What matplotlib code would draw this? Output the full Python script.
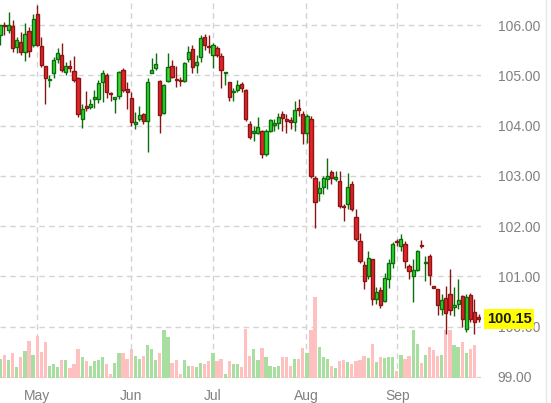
import matplotlib
matplotlib.use("Agg")
import matplotlib.pyplot as plt
from matplotlib.lines import Line2D
import matplotlib.transforms as mtransforms

plt.rcParams['font.family'] = ['Liberation Sans', 'DejaVu Sans']

# daily OHLC, late April to late September
opens = [105.80, 106.00, 105.90, 105.98, 105.56, 105.66, 105.46, 105.88, 105.60, 106.22,
         105.58, 105.18, 104.90, 105.04, 105.32, 105.40, 105.06, 105.18, 105.08, 104.94,
         104.14, 104.38, 104.38, 104.54, 104.54, 104.86, 105.00, 104.64, 104.54, 104.60,
         105.10, 104.72, 104.56, 104.04, 104.14, 104.24, 104.10, 105.04, 105.14, 104.88,
         104.26, 104.88, 105.18, 104.92, 104.90, 104.88, 105.32, 105.52, 105.20, 105.36,
         105.76, 105.58, 105.40, 105.54, 105.38, 105.04, 104.86, 104.66, 104.70, 104.82,
         104.70, 104.04, 103.86, 103.86, 103.90, 103.44, 103.90, 104.02, 104.06, 104.24,
         104.12, 104.10, 104.08, 104.34, 104.24, 103.86, 104.14, 102.96, 102.66, 102.78,
         102.94, 103.08, 102.94, 102.90, 102.40, 102.44, 102.84, 102.18, 101.70, 101.22,
         101.00, 101.34, 100.56, 100.74, 100.52, 100.94, 101.26, 101.70, 101.60, 101.64,
         101.20, 101.00, 101.12, 101.62, 101.26, 101.40, 100.82, 100.76, 100.36, 100.58,
         100.66, 100.40, 100.46, 100.62, 99.96, 100.64, 100.30, 100.20]
highs = [106.00, 106.06, 106.26, 106.10, 105.76, 105.86, 106.04, 105.96, 106.22, 106.40,
         105.76, 105.18, 105.00, 105.36, 105.54, 105.64, 105.26, 105.30, 105.38, 104.96,
         104.44, 104.68, 104.54, 104.70, 104.90, 105.10, 105.04, 104.66, 104.58, 105.08,
         105.14, 104.86, 104.66, 104.28, 104.40, 104.26, 104.94, 105.34, 105.44, 104.90,
         104.82, 105.44, 105.30, 105.18, 104.96, 105.26, 105.58, 105.60, 105.40, 105.80,
         105.82, 105.80, 105.64, 105.58, 105.44, 105.06, 104.86, 104.74, 104.90, 104.86,
         104.72, 104.10, 104.00, 104.18, 103.92, 103.94, 104.14, 104.14, 104.26, 104.30,
         104.24, 104.18, 104.50, 104.54, 104.30, 104.24, 104.20, 103.00, 102.90, 103.00,
         103.36, 103.12, 103.10, 103.10, 102.44, 103.06, 102.90, 102.34, 101.86, 101.30,
         101.50, 101.34, 100.80, 100.80, 101.06, 101.34, 101.68, 101.74, 101.84, 101.70,
         101.24, 101.34, 101.52, 101.72, 101.40, 101.44, 100.82, 100.76, 100.66, 100.82,
         101.14, 100.80, 100.94, 100.64, 100.66, 100.68, 100.56, 100.26]
lows = [105.60, 105.80, 105.84, 105.46, 105.44, 105.40, 105.28, 105.36, 105.56, 105.58,
        105.16, 104.44, 104.76, 104.94, 105.24, 105.06, 105.00, 105.06, 104.86, 104.18,
        103.96, 104.30, 104.34, 104.36, 104.46, 104.48, 104.56, 104.50, 104.26, 104.54,
        104.66, 104.34, 104.00, 103.94, 104.10, 104.04, 103.48, 105.04, 105.10, 103.86,
        104.24, 104.86, 104.94, 104.76, 104.78, 104.86, 105.26, 105.04, 105.04, 105.26,
        105.50, 105.44, 105.14, 105.36, 104.74, 104.80, 104.50, 104.50, 104.66, 104.66,
        104.10, 103.74, 103.70, 103.84, 103.36, 103.40, 103.88, 103.90, 103.94, 103.90,
        103.86, 103.94, 103.90, 104.20, 103.64, 103.66, 102.96, 101.96, 102.50, 102.64,
        102.74, 102.84, 102.90, 102.36, 102.10, 102.34, 102.30, 101.70, 101.26, 100.76,
        100.94, 100.44, 100.46, 100.38, 100.50, 100.78, 101.16, 101.60, 101.50, 101.16,
        100.94, 100.50, 101.10, 101.56, 100.90, 100.84, 100.78, 100.24, 100.24, 99.86,
        100.24, 100.22, 100.36, 100.00, 99.90, 100.10, 99.86, 100.10]
closes = [106.00, 105.98, 106.00, 105.54, 105.70, 105.46, 105.82, 105.48, 106.12, 105.60,
          105.20, 104.94, 104.92, 105.30, 105.44, 105.10, 105.18, 105.14, 104.90, 104.24,
          104.34, 104.36, 104.44, 104.56, 104.84, 105.04, 104.66, 104.62, 104.56, 105.06,
          104.70, 104.66, 104.08, 104.06, 104.22, 104.10, 104.86, 105.10, 105.22, 104.22,
          104.80, 105.16, 104.96, 104.90, 104.88, 105.24, 105.46, 105.16, 105.26, 105.74,
          105.60, 105.56, 105.60, 105.40, 105.10, 105.06, 104.58, 104.68, 104.80, 104.74,
          104.14, 103.78, 103.88, 103.98, 103.44, 103.90, 104.12, 104.04, 104.18, 104.16,
          104.10, 104.08, 104.32, 104.32, 103.86, 104.20, 103.00, 102.48, 102.76, 102.96,
          103.00, 102.96, 102.96, 102.40, 102.38, 102.78, 102.34, 101.74, 101.30, 100.90,
          101.36, 100.56, 100.70, 100.44, 100.96, 101.26, 101.64, 101.68, 101.74, 101.30,
          101.10, 101.12, 101.50, 101.60, 101.28, 101.02, 100.78, 100.44, 100.54, 100.28,
          100.34, 100.42, 100.54, 100.16, 100.60, 100.16, 100.10, 100.15]
volumes = [19, 23, 18, 25, 11, 21, 27, 37, 23, 42, 26, 36, 12, 14, 11, 18, 18, 10, 14, 29,
           21, 17, 12, 17, 18, 21, 14, 4, 15, 25, 25, 19, 29, 22, 19, 22, 33, 29, 18, 25,
           48, 41, 15, 18, 4, 18, 12, 12, 11, 15, 14, 17, 25, 17, 19, 4, 17, 14, 14, 11,
           49, 22, 29, 18, 30, 21, 12, 11, 12, 21, 21, 12, 19, 19, 30, 25, 48, 81, 31, 21,
           19, 12, 10, 17, 18, 16, 14, 17, 18, 22, 20, 34, 16, 21, 20, 21, 21, 7, 23, 19,
           22, 48, 34, 15, 23, 31, 28, 22, 23, 48, 48, 33, 31, 36, 25, 29, 33, 1]

month_labels = ['May', 'Jun', 'Jul', 'Aug', 'Sep']
month_index = [9.0, 32.0, 52.0, 74.8, 97.1]
price_ticks = [99, 100, 101, 102, 103, 104, 105, 106]
last_price = closes[-1]

up_body, up_edge = '#2fdc2f', '#0b6e0b'
dn_body, dn_edge = '#e5242a', '#8a1515'
up_vol, dn_vol = '#a8dea0', '#ffc0c0'

fig = plt.figure(figsize=(5.51, 4.03), dpi=100)
ax = fig.add_axes([0, 25 / 403, 481 / 551, 378 / 403])

ymin, ymax = 98.98, 106.50
n = len(closes)
idx = list(range(n))
up = [c >= o for o, c in zip(opens, closes)]

# volume bars along the bottom (tallest bar ~21% of the panel height)
vmax = max(volumes)
vol_h = [v / vmax * 0.214 * (ymax - ymin) for v in volumes]
ax.bar(idx, vol_h, bottom=ymin, width=0.8,
       color=[up_vol if u else dn_vol for u in up], linewidth=0, zorder=1)

# wicks
ax.vlines(idx, lows, highs, colors=[up_edge if u else dn_edge for u in up],
          linewidth=1.0, zorder=2)

# bodies
bottoms = [min(o, c) for o, c in zip(opens, closes)]
heights = [max(abs(c - o), 0.03) for o, c in zip(opens, closes)]
ax.bar(idx, heights, bottom=bottoms, width=0.78,
       color=[up_body if u else dn_body for u in up],
       edgecolor=[up_edge if u else dn_edge for u in up], linewidth=1.0, zorder=3)

ax.set_xlim(-0.1, 117.6)
ax.set_ylim(ymin, ymax)

ax.set_yticks(price_ticks)
ax.set_yticklabels([f"{p:.2f}" for p in price_ticks])
ax.yaxis.tick_right()
ax.tick_params(axis='y', length=0, pad=12, labelsize=10, labelcolor='#808080')

ax.set_xticks(month_index)
ax.set_xticklabels(month_labels)
ax.tick_params(axis='x', length=0, pad=8, labelsize=10, labelcolor='#808080')

ax.grid(True, color='#d4d4d4', linestyle=(0, (4, 3)), linewidth=1.0)
ax.set_axisbelow(True)
for s in ax.spines.values():
    s.set_visible(False)

# last price marker
trans = mtransforms.blended_transform_factory(ax.transAxes, ax.transData)
ax.text(1.012, last_price, f"{last_price:.2f}", transform=trans, ha='left', va='center',
        fontsize=10.5, fontweight='bold', color='#1a1a1a', zorder=5,
        bbox=dict(boxstyle='square,pad=0.2', facecolor='#ffff00', edgecolor='none'))

fig.add_artist(Line2D([546 / 551, 546 / 551], [0, 1], color='#e8e8e8', linewidth=1.0))

fig.savefig('out.png', dpi=100)
